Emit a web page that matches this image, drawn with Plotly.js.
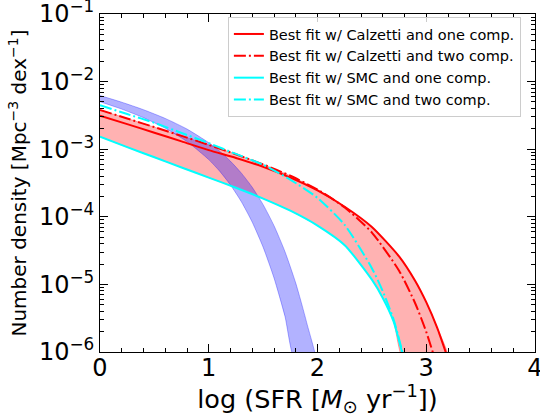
<!DOCTYPE html>
<html>
<head>
<meta charset="utf-8">
<script src="https://cdn.plot.ly/plotly-3.0.1.min.js"></script>
<style>html,body{margin:0;padding:0;background:#fff;}#chart{width:540px;height:417px;}</style>
</head>
<body>
<div id="chart"></div>
<script>
// ---- data (log10 of number density) ----
var seriesNames = [
  'Best fit w/ Calzetti and one comp.',
  'Best fit w/ Calzetti and two comp.',
  'Best fit w/ SMC and one comp.',
  'Best fit w/ SMC and two comp.'
];
// Calzetti curves share one grid
var xCal = [0, 0.25, 0.5, 0.75, 1.0, 1.25, 1.5, 1.75, 2.0, 2.25, 2.5, 2.75, 2.9, 3.0, 3.1, 3.2];
var logCalOne = [-2.503, -2.629, -2.756, -2.884, -3.014, -3.13, -3.26, -3.42, -3.61, -3.851, -4.150, -4.586, -4.953, -5.263, -5.639, -6.101];
var logCalTwo = [-2.420, -2.546, -2.674, -2.803, -2.936, -3.075, -3.225, -3.393, -3.597, -3.861, -4.233, -4.797, -5.286, -5.703, -6.216, -6.848];
// SMC curves share one grid
var xSmc = [0, 0.25, 0.5, 0.75, 1.0, 1.25, 1.5, 1.75, 2.0, 2.25, 2.5, 2.6, 2.7, 2.8];
var logSmcOne = [-2.815, -2.97, -3.12, -3.27, -3.42, -3.57, -3.73, -3.91, -4.13, -4.42, -4.93, -5.20, -5.55, -6.15];
var logSmcTwo = [-2.35, -2.48, -2.61, -2.76, -2.91, -3.07, -3.23, -3.45, -3.72, -4.12, -4.76, -5.10, -5.52, -6.12];
// blue band (upper and lower edge)
var xBlueUp = [0, 0.2, 0.4, 0.6, 0.8, 1.0, 1.1, 1.2, 1.3, 1.4, 1.5, 1.6, 1.7, 1.8, 1.9, 2.0];
var logBlueUp = [-2.206, -2.305, -2.416, -2.545, -2.702, -2.904, -3.030, -3.178, -3.354, -3.564, -3.820, -4.131, -4.512, -4.981, -5.562, -6.283];
var xBlueLo = [0, 0.2, 0.4, 0.6, 0.8, 1.0, 1.1, 1.2, 1.3, 1.4, 1.5, 1.6, 1.7, 1.8];
var logBlueLo = [-2.298, -2.407, -2.534, -2.689, -2.887, -3.154, -3.325, -3.530, -3.778, -4.080, -4.450, -4.904, -5.467, -6.164];
// axis ticks
var xTicks = [0, 1, 2, 3, 4];
var yTickExp = [-6, -5, -4, -3, -2, -1];

// ---- build ----
function pw(a) { return a.map(function (v) { return Math.pow(10, v); }); }
function rev(a) { return a.slice().reverse(); }

var pinkUpper = logCalOne.map(function (v, i) { return Math.max(v, logCalTwo[i]); });
var pink = {
  x: xCal.concat(rev(xSmc)), y: pw(pinkUpper).concat(rev(pw(logSmcOne))),
  mode: 'lines', fill: 'toself', fillcolor: 'rgba(255,0,0,0.3)',
  line: {color: 'rgba(255,0,0,0.3)', width: 1, shape: 'spline', smoothing: 0.6},
  showlegend: false, hoverinfo: 'skip'
};
var blue = {
  x: xBlueUp.concat(rev(xBlueLo)), y: pw(logBlueUp).concat(rev(pw(logBlueLo))),
  mode: 'lines', fill: 'toself', fillcolor: 'rgba(0,0,255,0.3)',
  line: {color: 'rgba(0,0,255,0.3)', width: 1, shape: 'spline', smoothing: 0.6},
  showlegend: false, hoverinfo: 'skip'
};
var dd = '12px,3px,2px,3px';
function ln(x, y, name, color, dash, grp) {
  return {x: x, y: pw(y), name: name, mode: 'lines', legendgroup: grp,
    line: {color: color, width: 2, dash: dash, shape: 'spline', smoothing: 0.6}};
}
var traces = [
  pink, blue,
  ln(xCal, logCalOne, seriesNames[0], '#ff0000', 'solid', 'a'),
  ln(xCal, logCalTwo, seriesNames[1], '#ff0000', dd, 'b'),
  ln(xSmc, logSmcOne, seriesNames[2], '#00ffff', 'solid', 'c'),
  ln(xSmc, logSmcTwo, seriesNames[3], '#00ffff', dd, 'd')
];

var yMinor = [];
for (var e = -6; e < -1; e++) for (var m = 2; m <= 9; m++) yMinor.push(m * Math.pow(10, e));

var font = 'DejaVu Sans';
var layout = {
  width: 540, height: 417,
  margin: {l: 100, r: 5, t: 14, b: 65},
  paper_bgcolor: '#fff', plot_bgcolor: '#fff',
  font: {family: font, color: '#000'},
  showlegend: true,
  xaxis: {
    range: [0, 4], tickmode: 'array', tickvals: xTicks, ticktext: xTicks.map(String),
    ticks: 'inside', ticklen: 8, tickwidth: 1, tickcolor: '#000',
    showline: true, linecolor: '#000', linewidth: 1, mirror: 'allticks',
    showgrid: false, zeroline: false, ticklabeloverflow: 'allow', ticklabelstandoff: -6,
    tickfont: {size: 24, family: font},
    minor: {dtick: 0.2, tick0: 0, ticks: 'inside', ticklen: 4, tickwidth: 1, tickcolor: '#000', showgrid: false},
    title: {text: 'log (SFR [<i>M</i><sub>⊙</sub> yr<sup>−1</sup>])', font: {size: 25.5, family: font}, standoff: 0}
  },
  yaxis: {
    type: 'log', range: [-6, -1], tickmode: 'array',
    tickvals: yTickExp.map(function (v) { return Math.pow(10, v); }),
    ticktext: yTickExp.map(function (v) { return '10<sup>−' + Math.abs(v) + '</sup>'; }),
    ticks: 'inside', ticklen: 8, tickwidth: 1, tickcolor: '#000',
    showline: true, linecolor: '#000', linewidth: 1, mirror: 'allticks',
    showgrid: false, zeroline: false, ticklabeloverflow: 'allow',
    tickfont: {size: 24, family: font},
    minor: {tickmode: 'array', tickvals: yMinor, ticks: 'inside', ticklen: 4, tickwidth: 1, tickcolor: '#000', showgrid: false},
    title: {text: 'Number density [Mpc<sup>−3</sup> dex<sup>−1</sup>]', font: {size: 20, family: font}, standoff: 6}
  },
  legend: {
    x: 0.294, y: 0.991, xanchor: 'left', yanchor: 'top',
    bgcolor: 'rgba(255,255,255,0.8)', bordercolor: '#cccccc', borderwidth: 1,
    font: {size: 14.5, family: font, color: '#000'},
    traceorder: 'grouped', tracegroupgap: 0
  }
};
Plotly.newPlot('chart', traces, layout, {staticPlot: true, displayModeBar: false});
</script>
</body>
</html>
